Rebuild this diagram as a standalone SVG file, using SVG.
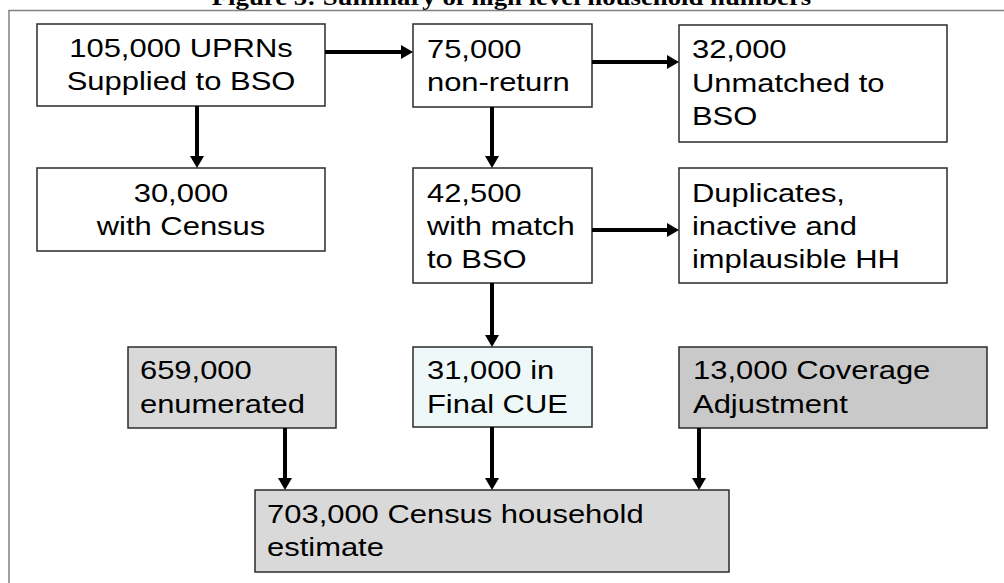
<svg xmlns="http://www.w3.org/2000/svg" width="1004" height="583" viewBox="0 0 1004 583">
<style>
.box{stroke:#2b2b2b;stroke-width:1.5;fill:#ffffff}
.grey{fill:#d9d9d9}
.dark{fill:#c9c9c9}
.cyan{fill:#eff8f8}
.t{font-family:"Liberation Sans",Arial,sans-serif;font-size:26px;fill:#000}
.c{text-anchor:middle}
.title{font-family:"Liberation Serif","Times New Roman",serif;font-weight:bold;font-size:22.5px;text-anchor:middle;fill:#000}
.conn line{stroke:#000;stroke-width:4}
</style>
<defs>
<marker id="ah" markerUnits="userSpaceOnUse" markerWidth="12" markerHeight="14" refX="2" refY="7" orient="auto">
<path d="M0,0 L12,7 L0,14 z" fill="#000"/>
</marker>
</defs>
<rect width="1004" height="583" fill="#fff"/>
<text class="title" x="429.8" y="4.5" transform="scale(1.19 1)">Figure 5: Summary of high level household numbers</text>
<rect x="9" y="10.5" width="1010" height="600" fill="none" stroke="#808080" stroke-width="1.5"/>

<g id="n1"><rect class="box" x="37" y="24" width="288" height="82"/>
<text class="t c" transform="scale(1.19 1)"><tspan x="152.1" y="57">105,000 UPRNs</tspan><tspan x="152.1" y="90">Supplied to BSO</tspan></text></g>

<g id="n2"><rect class="box" x="413" y="24" width="179" height="83"/>
<text class="t" transform="scale(1.19 1)"><tspan x="358.8" y="58">75,000</tspan><tspan x="358.8" y="91">non-return</tspan></text></g>

<g id="n3"><rect class="box" x="679" y="25" width="268" height="117"/>
<text class="t" transform="scale(1.19 1)"><tspan x="581.5" y="58.3">32,000</tspan><tspan x="581.5" y="91.7">Unmatched to</tspan><tspan x="581.5" y="125">BSO</tspan></text></g>

<g id="n4"><rect class="box" x="37" y="168" width="288" height="83"/>
<text class="t c" transform="scale(1.19 1)"><tspan x="152.1" y="202">30,000</tspan><tspan x="152.1" y="235">with Census</tspan></text></g>

<g id="n5"><rect class="box" x="413" y="168" width="179" height="115"/>
<text class="t" transform="scale(1.19 1)"><tspan x="358.8" y="202">42,500</tspan><tspan x="358.8" y="235">with match</tspan><tspan x="358.8" y="268">to BSO</tspan></text></g>

<g id="n6"><rect class="box" x="679" y="168" width="268" height="115"/>
<text class="t" transform="scale(1.19 1)"><tspan x="581.5" y="202.3">Duplicates,</tspan><tspan x="581.5" y="235.3">inactive and</tspan><tspan x="581.5" y="268.3">implausible HH</tspan></text></g>

<g id="n7"><rect class="box grey" x="128" y="347" width="208" height="81"/>
<text class="t" transform="scale(1.19 1)"><tspan x="117.6" y="379.5">659,000</tspan><tspan x="117.6" y="413">enumerated</tspan></text></g>

<g id="n8"><rect class="box cyan" x="413" y="347" width="179" height="80"/>
<text class="t" transform="scale(1.19 1)"><tspan x="358.8" y="379.5">31,000 in</tspan><tspan x="358.8" y="413">Final CUE</tspan></text></g>

<g id="n9"><rect class="box dark" x="679" y="347" width="308" height="81"/>
<text class="t" transform="scale(1.19 1)"><tspan x="582.4" y="379.5">13,000 Coverage</tspan><tspan x="582.4" y="413">Adjustment</tspan></text></g>

<g id="n10"><rect class="box grey" x="255" y="490" width="474" height="82"/>
<text class="t" transform="scale(1.19 1)"><tspan x="224.4" y="523.3">703,000 Census household</tspan><tspan x="224.4" y="556">estimate</tspan></text></g>

<g id="connectors" class="conn">
<line x1="325" y1="52" x2="403" y2="52" marker-end="url(#ah)"/>
<line x1="197" y1="106" x2="197" y2="158" marker-end="url(#ah)"/>
<line x1="592" y1="62" x2="669" y2="62" marker-end="url(#ah)"/>
<line x1="492" y1="107" x2="492" y2="158" marker-end="url(#ah)"/>
<line x1="592" y1="230" x2="669" y2="230" marker-end="url(#ah)"/>
<line x1="492" y1="283" x2="492" y2="337" marker-end="url(#ah)"/>
<line x1="285" y1="428" x2="285" y2="480" marker-end="url(#ah)"/>
<line x1="492" y1="427" x2="492" y2="480" marker-end="url(#ah)"/>
<line x1="699" y1="428" x2="699" y2="480" marker-end="url(#ah)"/>
</g>
</svg>
